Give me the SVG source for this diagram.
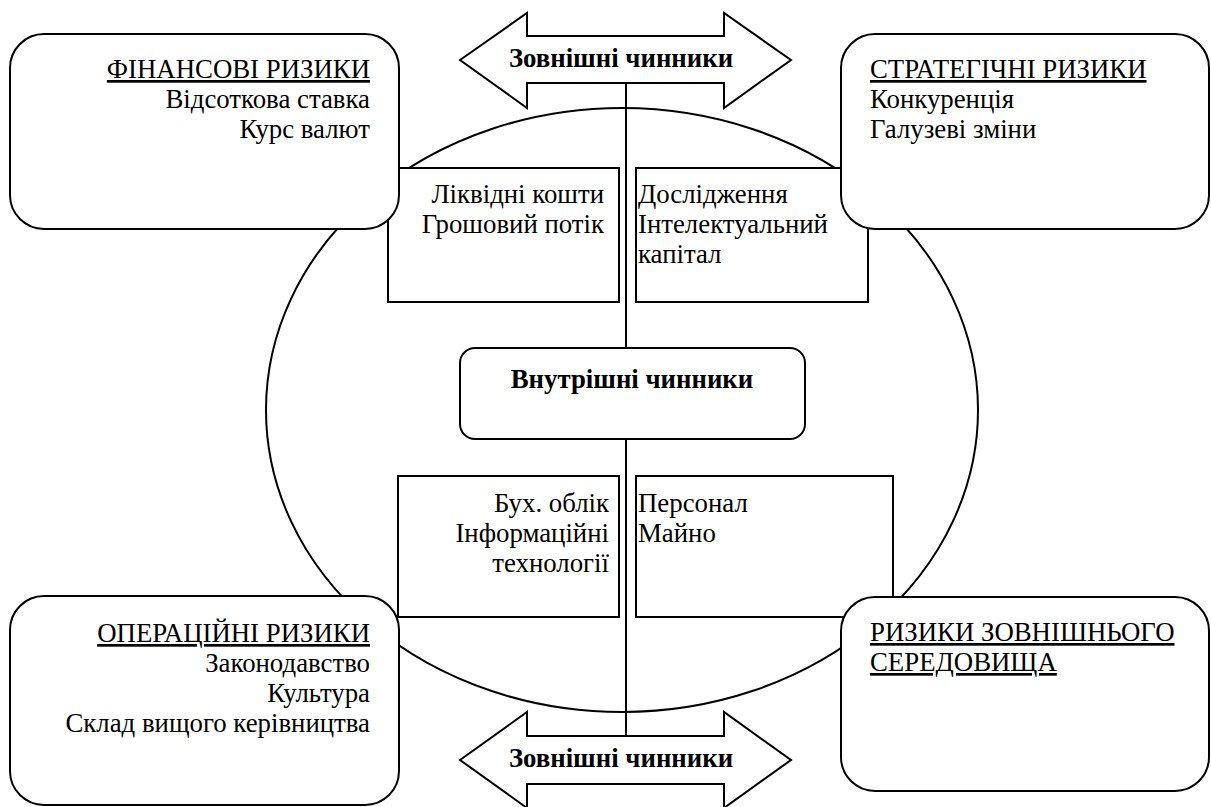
<svg xmlns="http://www.w3.org/2000/svg" width="1211" height="807" viewBox="0 0 1211 807" font-family="Liberation Serif, DejaVu Serif, serif" font-size="26.8">
<style>
.s{fill:#fff;stroke:#000;stroke-width:2}
.l{fill:none;stroke:#000;stroke-width:2}
text{fill:#000}
.r{text-anchor:end}
.c{text-anchor:middle}
.b{font-weight:bold}
.u{text-decoration:underline}
</style>
<rect width="1211" height="807" fill="#fff"/>
<g id="ellipse"><ellipse class="l" cx="622" cy="410" rx="356" ry="302"/></g>
<g id="connectors">
<line class="l" x1="626" y1="83" x2="626" y2="348"/>
<line class="l" x1="626" y1="439" x2="626" y2="736"/>
</g>
<g id="inner-tl"><rect class="s" x="388" y="168" width="231" height="134"/>
<text class="r" x="604" y="203">Ліквідні кошти</text><text class="r" x="604" y="233">Грошовий потік</text></g>
<g id="inner-tr"><rect class="s" x="636" y="168" width="232" height="134"/>
<text x="638" y="203">Дослідження</text><text x="638" y="233">Інтелектуальний</text><text x="638" y="263">капітал</text></g>
<g id="inner-bl"><rect class="s" x="398" y="476" width="221" height="141"/>
<text class="r" x="609" y="512">Бух. облік</text><text class="r" x="609" y="542">Інформаційні</text><text class="r" x="609" y="572">технології</text></g>
<g id="inner-br"><rect class="s" x="636" y="476" width="257" height="141"/>
<text x="638" y="512">Персонал</text><text x="638" y="542">Майно</text></g>
<g id="internal"><rect class="s" x="460" y="348" width="345" height="91" rx="15"/>
<text class="c b" x="632" y="388">Внутрішні чинники</text></g>
<g id="arrow-top"><polygon class="s" points="460,60 527,13 527,36 724,36 724,13 791,60 724,108 724,83 527,83 527,108"/>
<text class="c b" x="621" y="67">Зовнішні чинники</text></g>
<g id="arrow-bottom"><polygon class="s" points="460,760 527,712 527,736 724,736 724,712 791,760 724,808 724,784 527,784 527,808"/>
<text class="c b" x="621" y="767">Зовнішні чинники</text></g>
<g id="fin"><rect class="s" x="10" y="34" width="389" height="195" rx="34"/>
<text class="r u" x="370" y="78">ФІНАНСОВІ РИЗИКИ</text><text class="r" x="370" y="108">Відсоткова ставка</text><text class="r" x="370" y="138">Курс валют</text></g>
<g id="strat"><rect class="s" x="841" y="34" width="368" height="195" rx="34"/>
<text class="u" x="870" y="78">СТРАТЕГІЧНІ РИЗИКИ</text><text x="870" y="108">Конкуренція</text><text x="870" y="138">Галузеві зміни</text></g>
<g id="oper"><rect class="s" x="10" y="596" width="389" height="209" rx="34"/>
<text class="r u" x="370" y="642">ОПЕРАЦІЙНІ РИЗИКИ</text><text class="r" x="370" y="672">Законодавство</text><text class="r" x="370" y="702">Культура</text><text class="r" x="370" y="732">Склад вищого керівництва</text></g>
<g id="env"><rect class="s" x="841" y="597" width="368" height="194" rx="34"/>
<text class="u" x="870" y="641">РИЗИКИ ЗОВНІШНЬОГО</text><text class="u" x="870" y="671">СЕРЕДОВИЩА</text></g>
</svg>
